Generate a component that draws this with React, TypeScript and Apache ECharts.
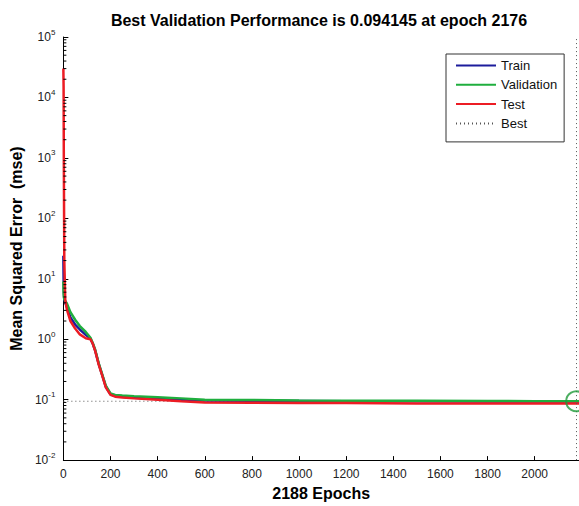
import React, { useEffect, useRef } from 'react';
import * as echarts from 'echarts';

const FONT = '"Liberation Sans", Arial, Helvetica, sans-serif';

const titleText = 'Best Validation Performance is 0.094145 at epoch 2176';
const xAxisName = '2188 Epochs';
const yAxisName = 'Mean Squared Error  (mse)';
const legendNames = ['Train', 'Validation', 'Test', 'Best'];

const totalEpochs = 2188;
const bestEpoch = 2176;
const bestPerf = 0.094145;

const epochs = [0, 1, 2, 4, 8, 15, 30, 50, 70, 95, 115, 125, 135, 150, 165, 180, 200, 220, 250, 300, 400, 500, 600, 800, 1000, 1200, 1500, 1800, 2000, 2176, 2188];

const trainMse = [24, 10, 6, 4.6, 4.0, 3.4, 2.3, 1.75, 1.45, 1.18, 1.02, 0.84, 0.65, 0.39, 0.255, 0.165, 0.122, 0.115, 0.112, 0.108, 0.104, 0.1, 0.097, 0.096, 0.095, 0.0945, 0.094, 0.0935, 0.0935, 0.0935, 0.0935];

const validationMse = [9, 6, 5, 4.6, 4.3, 3.9, 2.8, 2.1, 1.65, 1.32, 1.06, 0.86, 0.67, 0.4, 0.26, 0.17, 0.127, 0.12, 0.117, 0.114, 0.11, 0.105, 0.1, 0.099, 0.097, 0.096, 0.0955, 0.095, 0.0945, 0.094145, 0.0942];

const testMse = [30000, 15000, 800, 20, 4.5, 3.1, 2.0, 1.5, 1.2, 1.04, 1.0, 0.84, 0.64, 0.38, 0.25, 0.16, 0.12, 0.112, 0.109, 0.105, 0.1, 0.094, 0.09, 0.089, 0.088, 0.088, 0.0865, 0.086, 0.086, 0.086, 0.086];

const yMin = 0.01;
const yMax = 100000;
const xTickInterval = 200;
const lastXLabel = 2000;

// minor tick positions for the log axis: 2..9 x 10^k
const minorTickValues: number[] = [];
for (let k = -2; k < 5; k++) {
  for (let m = 2; m <= 9; m++) minorTickValues.push(m * Math.pow(10, k));
}

const COLORS = {
  train: '#1c1c9c',
  validation: '#1fae3e',
  test: '#ec1c24',
  best: '#555555',
  circle: '#1f9a3a',
};

export default function App() {
  const ref = useRef<HTMLDivElement>(null);

  useEffect(() => {
    document.body.style.margin = '0';
    if (!ref.current) return;
    const chart = echarts.init(ref.current, undefined, { renderer: 'svg' });

    const mk = (vals: number[]) => epochs.map((e, i) => [e, vals[i]]);

    chart.setOption({
      animation: false,
      backgroundColor: '#ffffff',
      textStyle: { fontFamily: FONT },
      grid: { left: 60, right: 0, top: 37, bottom: 42, containLabel: false },
      graphic: [
        {
          type: 'text',
          x: 319,
          y: 20,
          style: {
            text: titleText,
            font: `bold 16px ${FONT}`,
            fill: '#000',
            textAlign: 'center',
            textVerticalAlign: 'middle',
          },
        },
      ],
      legend: {
        orient: 'vertical',
        left: 446,
        top: 54,
        data: legendNames.map((n) => ({ name: n })),
        itemWidth: 40,
        itemHeight: 12,
        itemGap: 6.3,
        padding: [5, 7, 12, 9],
        borderColor: '#333',
        borderWidth: 1,
        borderRadius: 0,
        backgroundColor: '#fff',
        itemStyle: { color: 'rgba(0,0,0,0)', borderWidth: 0, opacity: 0 },
        lineStyle: { width: 2 },
        textStyle: { fontSize: 13, color: '#111', fontFamily: FONT },
      },
      xAxis: {
        type: 'value',
        min: 0,
        max: totalEpochs,
        interval: xTickInterval,
        name: xAxisName,
        nameLocation: 'middle',
        nameGap: 21,
        nameTextStyle: { fontSize: 16, fontWeight: 'bold', color: '#000', fontFamily: FONT },
        axisLine: { show: true, onZero: false, lineStyle: { color: '#000', width: 1 } },
        axisTick: { show: true, inside: true, length: 4, lineStyle: { color: '#000' } },
        axisLabel: {
          fontSize: 12,
          color: '#222',
          margin: 8,
          showMaxLabel: false,
          formatter: (v: number) => (v > lastXLabel ? '' : String(v)),
        },
        splitLine: { show: false },
      },
      yAxis: {
        type: 'log',
        logBase: 10,
        min: yMin,
        max: yMax,
        splitNumber: 7,
        name: yAxisName,
        nameLocation: 'middle',
        nameGap: 34,
        nameTextStyle: { fontSize: 16, fontWeight: 'bold', color: '#000', fontFamily: FONT },
        axisLine: { show: true, onZero: false, lineStyle: { color: '#000', width: 1 } },
        axisTick: { show: true, inside: true, length: 5, lineStyle: { color: '#000' } },
        axisLabel: {
          margin: 8,
          formatter: (v: number) => {
            const e = Math.round(Math.log10(v));
            return `{b|10}{s|${e}}`;
          },
          rich: {
            b: { fontSize: 12, color: '#222', fontFamily: FONT },
            s: { fontSize: 8, color: '#222', fontFamily: FONT, padding: [0, 0, 10, 0] },
          },
        },
        splitLine: { show: false },
      },
      series: [
        {
          name: 'Train',
          type: 'line',
          data: mk(trainMse),
          symbol: 'none',
          lineStyle: { color: COLORS.train, width: 2.5 },
          itemStyle: { color: COLORS.train },
          z: 2,
        },
        {
          name: 'Validation',
          type: 'line',
          data: mk(validationMse),
          symbol: 'none',
          lineStyle: { color: COLORS.validation, width: 2.5 },
          itemStyle: { color: COLORS.validation },
          z: 3,
        },
        {
          name: 'Test',
          type: 'line',
          data: mk(testMse),
          symbol: 'none',
          lineStyle: { color: COLORS.test, width: 2.5 },
          itemStyle: { color: COLORS.test },
          z: 4,
        },
        {
          name: 'Best',
          type: 'line',
          data: [
            [0, bestPerf],
            [totalEpochs, bestPerf],
          ],
          symbol: 'none',
          lineStyle: { color: COLORS.best, width: 1, type: [1, 3] },
          itemStyle: { color: COLORS.best },
          z: 1,
          markLine: {
            silent: true,
            symbol: ['none', 'none'],
            label: { show: false },
            lineStyle: { color: COLORS.best, width: 1, type: [1, 3] },
            data: [{ xAxis: bestEpoch }],
          },
        },
        {
          name: 'bestPoint',
          type: 'scatter',
          data: [[bestEpoch, bestPerf]],
          symbol: 'circle',
          symbolSize: 20,
          itemStyle: { color: 'rgba(0,0,0,0)', borderColor: COLORS.circle, borderWidth: 2 },
          z: 5,
          clip: false,
        },
        {
          name: 'minorTicks',
          type: 'custom',
          silent: true,
          data: minorTickValues.map((v) => [0, v]),
          renderItem: (params: any, api: any) => {
            const p = api.coord([0, api.value(1)]);
            return {
              type: 'line',
              shape: { x1: p[0], y1: p[1], x2: p[0] + 3, y2: p[1] },
              style: { stroke: '#000', lineWidth: 1 },
            };
          },
          z: 6,
        },
      ],
    });

    return () => chart.dispose();
  }, []);

  return <div ref={ref} style={{ width: 579, height: 506 }} />;
}
